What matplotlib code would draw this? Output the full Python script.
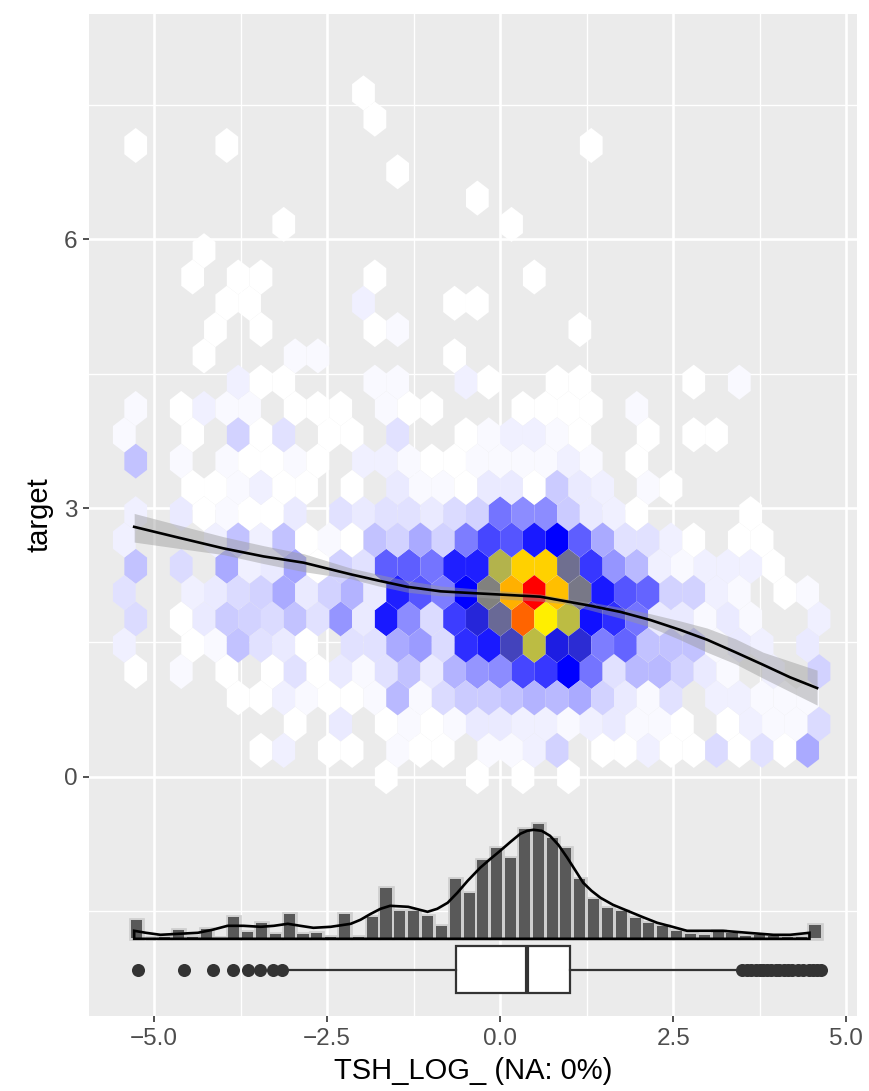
import numpy as np
import matplotlib
matplotlib.use('Agg')
import matplotlib.pyplot as plt
from matplotlib.colors import LinearSegmentedColormap

plt.rcParams['font.family'] = ['Liberation Sans', 'DejaVu Sans']

# hex cells: one dict per row from the top, {column: colour value}
row00 = {10: 0}
row01 = {11: 0}
row02 = {0: 0, 4: 0, 20: 0}
row03 = {12: 0}
row04 = {15: 0}
row05 = {7: 0, 17: 0}
row06 = {3: 0}
row07 = {3: 0, 5: 0, 6: 0, 11: 0, 18: 0}
row08 = {4: 0, 5: 0, 10: 2, 14: 0, 15: 0}
row09 = {4: 0, 6: 0, 11: 0, 12: 1, 20: 0}
row10 = {3: 0, 7: 1, 8: 1, 14: 0}
row11 = {5: 2, 6: 0, 7: 0, 11: 1, 12: 1, 15: 2, 16: 0, 19: 0, 20: 0, 25: 0, 27: 1}
row12 = {0: 1, 2: 0, 3: 2, 4: 1, 5: 1, 7: 0, 8: 0, 9: 0, 11: 1, 12: 0, 13: 0,
         17: 0, 18: 0, 19: 0, 20: 0, 22: 1}
row13 = {0: 1, 3: 0, 5: 6, 6: 0, 7: 4, 9: 0, 10: 0, 12: 4, 15: 0, 16: 1, 17: 2,
         18: 2, 19: 1, 20: 0, 23: 0, 25: 0, 26: 0}
row14 = {0: 8, 2: 1, 4: 1, 5: 0, 6: 0, 7: 1, 8: 0, 10: 2, 11: 2, 12: 1, 13: 0,
         14: 0, 15: 1, 16: 1, 17: 1, 18: 1, 19: 2, 20: 1, 22: 0}
row15 = {3: 0, 4: 0, 5: 1, 6: 2, 7: 0, 8: 0, 10: 0, 12: 3, 13: 1, 14: 1, 15: 0,
         16: 3, 17: 3, 18: 0, 19: 7, 20: 3, 21: 2, 23: 1, 24: 0}
row16 = {0: 2, 2: 3, 3: 0, 4: 1, 5: 0, 6: 0, 7: 3, 9: 4, 10: 3, 11: 4, 12: 4,
         13: 3, 14: 5, 15: 6, 16: 18, 17: 15, 18: 15, 19: 7, 20: 3, 21: 2,
         22: 0, 27: 0}
row17 = {0: 2, 4: 2, 5: 8, 6: 2, 7: 8, 8: 0, 9: 1, 10: 0, 11: 8, 12: 6, 13: 11,
         14: 6, 15: 17, 16: 24, 17: 22, 18: 30, 19: 33, 20: 21, 21: 11, 22: 4,
         23: 4, 24: 2, 25: 0, 27: 0, 28: 0}
row18 = {0: 8, 2: 5, 4: 11, 5: 2, 6: 3, 7: 12, 8: 0, 9: 6, 10: 4, 11: 21, 12: 21,
         13: 18, 14: 29, 15: 29, 16: 57, 17: 73, 18: 73, 19: 48, 20: 26, 21: 14,
         22: 9, 23: 2, 24: 1, 25: 2, 26: 2, 27: 2, 28: 0}
row19 = {0: 4, 3: 2, 4: 3, 5: 5, 6: 6, 7: 11, 8: 3, 9: 6, 10: 10, 11: 3, 12: 29,
         13: 22, 14: 17, 15: 33, 16: 50, 17: 77, 18: 100, 19: 75, 20: 49, 21: 30,
         22: 22, 23: 20, 24: 6, 25: 6, 26: 2, 27: 1, 29: 0, 30: 1}
row20 = {0: 5, 2: 0, 3: 3, 4: 7, 5: 6, 6: 5, 7: 8, 8: 4, 9: 14, 10: 3, 11: 30,
         12: 15, 13: 5, 14: 25, 15: 38, 16: 47, 17: 87, 18: 69, 19: 58, 20: 31,
         21: 27, 22: 18, 23: 3, 24: 3, 25: 1, 26: 3, 27: 1, 30: 2}
row21 = {0: 2, 3: 0, 4: 1, 5: 8, 6: 4, 7: 3, 8: 0, 10: 4, 11: 4, 12: 11, 13: 13,
         14: 5, 15: 27, 16: 30, 17: 42, 18: 58, 19: 37, 20: 39, 21: 17, 22: 20,
         23: 8, 24: 8, 25: 8, 26: 1, 27: 3, 28: 2, 30: 3}
row22 = {0: 0, 2: 1, 4: 0, 6: 0, 7: 4, 8: 0, 9: 3, 10: 1, 11: 4, 12: 8, 13: 3,
         14: 10, 15: 14, 16: 15, 17: 24, 18: 26, 19: 33, 20: 18, 21: 4, 22: 9,
         23: 9, 24: 6, 25: 3, 26: 1, 28: 2, 30: 6}
row23 = {5: 0, 6: 0, 7: 2, 8: 1, 9: 0, 10: 0, 11: 1, 12: 9, 13: 1, 14: 5, 15: 7,
         16: 7, 17: 8, 18: 10, 19: 9, 20: 11, 21: 6, 22: 3, 23: 1, 24: 4, 26: 2,
         27: 2, 28: 1, 29: 1, 30: 1}
row24 = {7: 0, 9: 3, 11: 0, 12: 1, 13: 0, 14: 1, 15: 3, 16: 3, 17: 2, 18: 2, 19: 1,
         20: 2, 21: 3, 22: 1, 23: 1, 24: 0, 26: 0, 27: 2, 28: 1, 29: 1, 30: 5}
row25 = {6: 0, 7: 2, 9: 0, 10: 0, 12: 1, 13: 0, 14: 0, 16: 1, 17: 1, 18: 2, 19: 6,
         21: 0, 22: 0, 23: 2, 24: 0, 25: 0, 26: 5, 27: 0, 28: 4, 29: 0, 30: 11}
row26 = {11: 0, 15: 0, 17: 0, 19: 0}
hex_rows = [row00, row01, row02, row03, row04, row05, row06, row07, row08,
            row09, row10, row11, row12, row13, row14, row15, row16, row17,
            row18, row19, row20, row21, row22, row23, row24, row25, row26]

# smooth line and its band
smooth_x = [-5.29, -4.65, -4.00, -3.42, -2.84, -2.16, -1.76, -1.34, -0.86, -0.39, 0.10,
            0.58, 0.94, 1.30, 1.74, 2.17, 2.60, 2.99, 3.40, 3.80, 4.19, 4.58]
smooth_y = [2.79, 2.67, 2.55, 2.46, 2.39, 2.26, 2.19, 2.12, 2.07, 2.05, 2.03,
            2.01, 1.96, 1.91, 1.84, 1.75, 1.64, 1.53, 1.39, 1.25, 1.11, 0.99]
smooth_hi = [2.94, 2.81, 2.68, 2.58, 2.49, 2.33, 2.26, 2.19, 2.13, 2.10, 2.07,
             2.04, 1.99, 1.95, 1.89, 1.82, 1.74, 1.66, 1.54, 1.39, 1.29, 1.19]
smooth_lo = [2.62, 2.55, 2.48, 2.38, 2.29, 2.21, 2.13, 2.06, 2.02, 2.01, 1.98,
             1.96, 1.93, 1.86, 1.77, 1.67, 1.53, 1.39, 1.26, 1.10, 0.95, 0.80]

# marginal histogram
hist_start = -5.25
hist_bin = 0.2
hist_counts = [18, 0, 1, 8, 1, 9, 0, 21, 6, 15, 4, 24, 4, 5, 1, 24, 1, 21, 50, 27,
               27, 22, 12, 59, 45, 78, 90, 80, 109, 114, 100, 90, 59, 39, 30, 27,
               20, 15, 12, 7, 4, 3, 7, 5, 2, 3, 2, 1, 1, 13]

# marginal density
dens_x = [-5.29, -5.29, -5.12, -4.91, -4.65, -4.37, -4.16, -3.94, -3.71, -3.46, -3.27,
          -3.07, -2.89, -2.70, -2.45, -2.16, -2.02, -1.87, -1.73, -1.59, -1.33, -1.05,
          -0.91, -0.76, -0.62, -0.47, -0.29, -0.14, 0, 0.15, 0.29, 0.39, 0.48, 0.60,
          0.72, 0.84, 0.97, 1.09, 1.20, 1.32, 1.45, 1.63, 1.84, 2.05, 2.27, 2.49,
          2.70, 2.96, 3.22, 3.58, 3.95, 4.19, 4.47, 4.47]
dens_h = [0, 8, 6, 4, 5, 6, 9, 13, 13, 12, 13,
          15, 13, 11, 12, 15, 19, 25, 30, 33, 32, 27,
          30, 36, 46, 58, 71, 80, 88, 97, 105, 108, 109, 108,
          103, 94, 81, 68, 56, 48, 41, 34, 28, 22, 16, 12,
          8, 8, 8, 6, 4, 4, 6, 0]

# marginal boxplot
box_q1, box_med, box_q3 = -0.636, 0.39, 1.01
whisk_lo, whisk_hi = -3.05, 3.45
fliers = [-5.23, -4.57, -4.15, -3.86, -3.64, -3.47, -3.29, -3.15,
          3.50, 3.56, 3.62, 3.70, 3.75, 3.80, 3.86, 3.92, 3.98, 4.03, 4.10,
          4.16, 4.22, 4.30, 4.38, 4.46, 4.52, 4.58, 4.63]

xticks = [-5, -2.5, 0, 2.5, 5]
xlabels = ['\u22125.0', '\u22122.5', '0.0', '2.5', '5.0']
xminor = [-3.75, -1.25, 1.25, 3.75]
yticks = [0, 3, 6]
yminor = [-1.5, 1.5, 4.5, 7.5]

# hex lattice
hex_x0, hex_dx, hex_dy = -5.268, 0.3292, 0.2937
hist_base, hist_scale = -1.80, 1 / 89.55
box_y, box_h = -2.156, 0.525

hx, hy, hv = [], [], []
for k, row in enumerate(hex_rows):
    for n, v in row.items():
        hx.append(hex_x0 + n * hex_dx - (k % 2) * hex_dx / 2)
        hy.append((26 - k) * hex_dy)
        hv.append(v)

fill_map = LinearSegmentedColormap.from_list(
    'wbyr', [(0, '#ffffff'), (0.33, '#0000ff'), (0.67, '#ffff00'), (1, '#ff0000')])

f, ax = plt.subplots(figsize=(8.69, 10.91), dpi=100)
f.subplots_adjust(left=89 / 869, right=857 / 869, top=1 - 14 / 1091, bottom=1 - 1016 / 1091)

ax.set_facecolor('#EBEBEB')
for s in ax.spines.values():
    s.set_visible(False)
ax.set_axisbelow(True)

xmin = hex_x0 - hex_dx
ax.hexbin(hx, hy, C=hv, reduce_C_function=np.max, gridsize=(34, 13),
          extent=(xmin, xmin + 34 * hex_dx, 0, 26 * hex_dy),
          cmap=fill_map, vmin=0, vmax=100, edgecolors=(1, 1, 1, 0.25), linewidths=0.12, zorder=2)

ax.fill_between(smooth_x, smooth_lo, smooth_hi, color='#999999', alpha=0.45, lw=0, zorder=3)
ax.plot(smooth_x, smooth_y, color='black', lw=1.9, zorder=4)

bar_x = hist_start + hist_bin * np.arange(len(hist_counts))
bar_h = np.array(hist_counts) * hist_scale
ax.bar(bar_x, bar_h, width=0.16, bottom=hist_base, color='#cfcfcf',
       edgecolor='#cfcfcf', lw=3.4, zorder=3)
ax.bar(bar_x, bar_h, width=0.16, bottom=hist_base, color='#595959', lw=0, zorder=3.5)

ax.fill(dens_x, -1.81 + np.array(dens_h) * hist_scale, facecolor='none',
        edgecolor='black', lw=1.9, zorder=5)

stats = [dict(med=box_med, q1=box_q1, q3=box_q3, whislo=whisk_lo, whishi=whisk_hi, fliers=fliers)]
ax.bxp(stats, positions=[box_y], widths=[box_h], orientation='horizontal',
       patch_artist=True, showcaps=False, manage_ticks=False,
       boxprops=dict(facecolor='white', edgecolor='#333333', lw=1.6),
       medianprops=dict(color='#333333', lw=3),
       whiskerprops=dict(color='#333333', lw=1.6),
       flierprops=dict(marker='o', markersize=9.4, markerfacecolor='#333333',
                       markeredgecolor='#333333', markeredgewidth=0),
       zorder=5)

ax.set_xlim(-5.943, 5.157)
ax.set_ylim(-2.672, 8.517)
ax.set_xticks(xticks)
ax.set_xticklabels(xlabels)
ax.set_yticks(yticks)
ax.set_xticks(xminor, minor=True)
ax.set_yticks(yminor, minor=True)
ax.grid(which='major', color='white', lw=1.9)
ax.grid(which='minor', color='white', lw=0.95)
ax.tick_params(which='major', length=4.5, width=1.2, color='#333333', labelcolor='#4D4D4D',
               labelsize=17.5, pad=4)
ax.tick_params(which='minor', length=0)

ax.set_xlabel('TSH_LOG_ (NA: 0%)', fontsize=21, color='black', labelpad=5.5)
ax.set_ylabel('target', fontsize=21, color='black', labelpad=7.6)

f.savefig('out.png', dpi=100)
